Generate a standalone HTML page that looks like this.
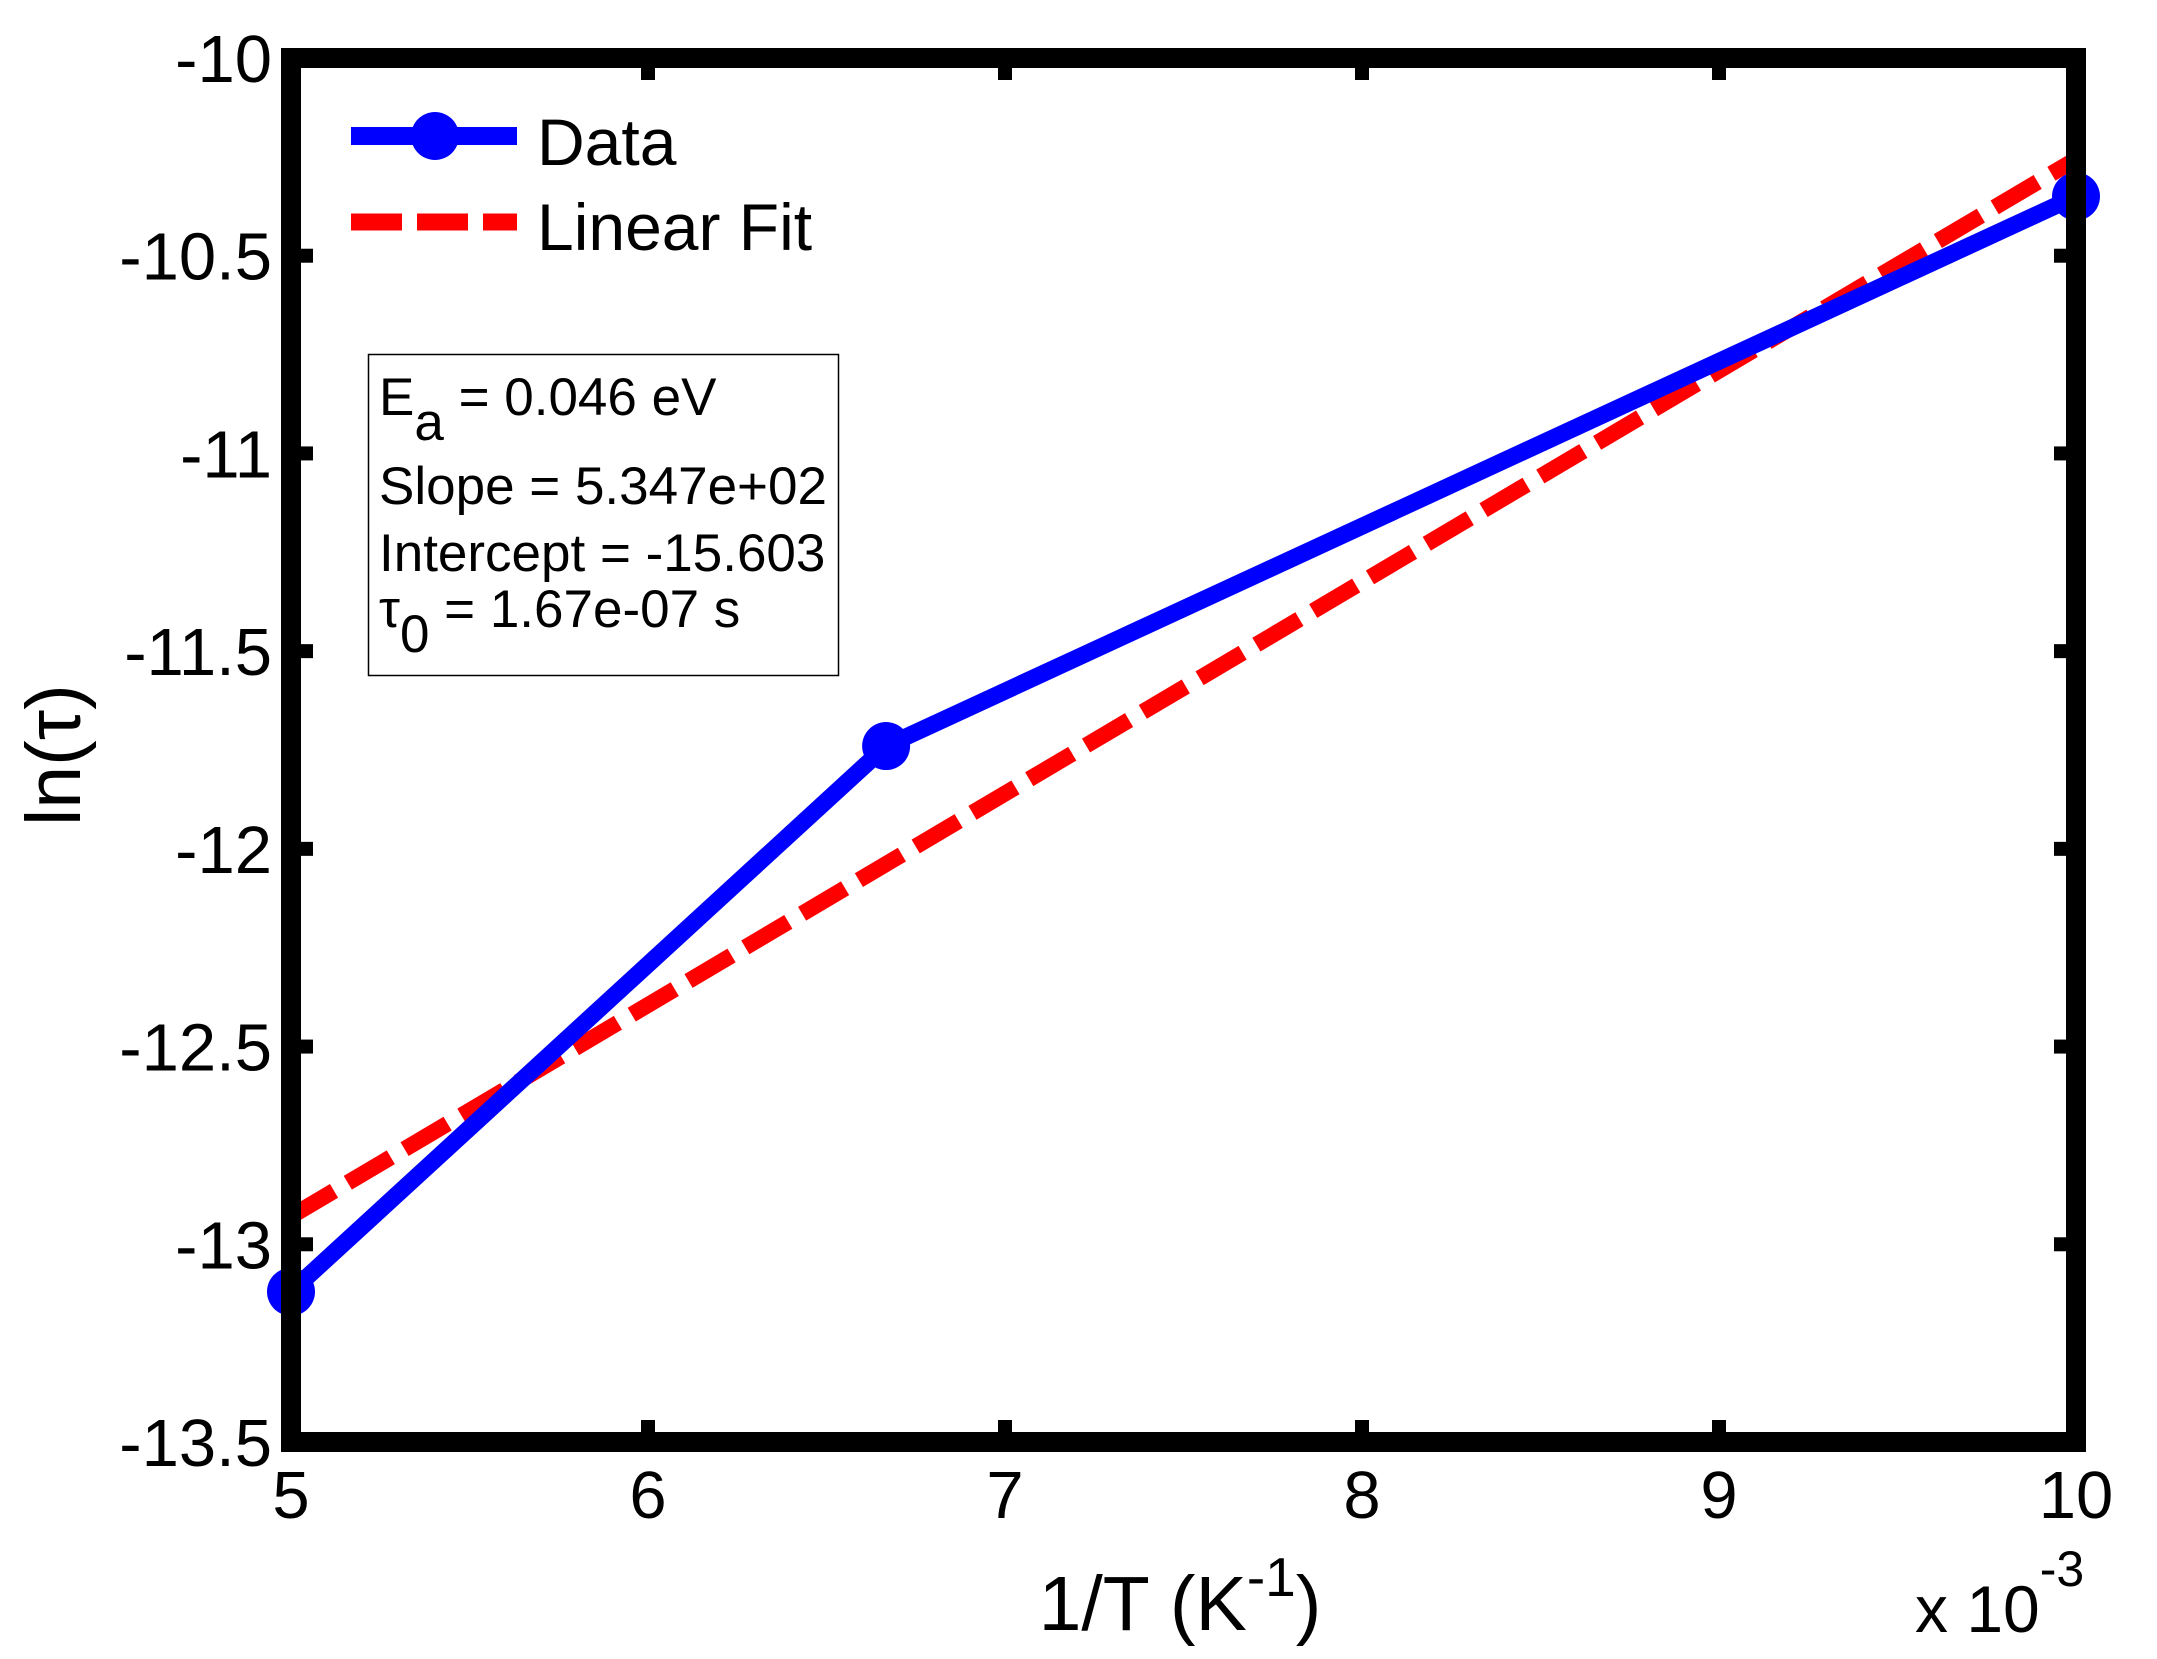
<!DOCTYPE html>
<html><head><meta charset="utf-8">
<style>
html,body{margin:0;padding:0;background:#fff;}
svg{display:block;font-family:"Liberation Sans",Arial,sans-serif;}
</style></head>
<body>
<svg id="chart" width="2157" height="1659" viewBox="0 0 2157 1659" xmlns="http://www.w3.org/2000/svg">
<rect x="0" y="0" width="2157" height="1659" fill="#fff"/>
<g id="plot"></g>
</svg>
<script>
const xTicks = [5, 6, 7, 8, 9, 10];
const xTickLabels = ["5", "6", "7", "8", "9", "10"];
const yTicks = [-10, -10.5, -11, -11.5, -12, -12.5, -13, -13.5];
const yTickLabels = ["-10", "-10.5", "-11", "-11.5", "-12", "-12.5", "-13", "-13.5"];
const dataX = [5, 6.667, 10];
const dataY = [-13.12, -11.74, -10.35];
const fitSlope = 534.7;
const fitIntercept = -15.603;
const fitRange = [5, 10];

const NS = "http://www.w3.org/2000/svg";
const L = 291, R = 2076, T = 58, B = 1442;
const xMin = 5, xMax = 10, yMin = -13.5, yMax = -10;
function sx(v){ return L + (v - xMin) / (xMax - xMin) * (R - L); }
function sy(v){ return B - (v - yMin) / (yMax - yMin) * (B - T); }
const g = document.getElementById('plot');
function mk(tag, attrs, parent){
  const e = document.createElementNS(NS, tag);
  for (const k in attrs) e.setAttribute(k, attrs[k]);
  (parent || g).appendChild(e);
  return e;
}

const fy0 = fitSlope * fitRange[0] / 1000 + fitIntercept;
const fy1 = fitSlope * fitRange[1] / 1000 + fitIntercept;
const fit = mk('line', {x1: sx(fitRange[0]), y1: sy(fy0), x2: sx(fitRange[1]), y2: sy(fy1), stroke: '#ff0000', 'stroke-width': 16, 'stroke-dasharray': '50 16'});



const pts = dataX.map((x, i) => sx(x) + ',' + sy(dataY[i])).join(' ');
const dl = mk('polyline', {points: pts, fill: 'none', stroke: '#0000ff', 'stroke-width': 17, 'stroke-linejoin': 'round'});


dataX.forEach((x, i) => {
  const c = mk('circle', {cx: sx(x), cy: sy(dataY[i]), r: 24, fill: '#0000ff'});
  
  
});

const fr = mk('rect', {x: L, y: T, width: R - L, height: B - T, fill: 'none', stroke: '#000', 'stroke-width': 20});



xTicks.forEach((v, i) => {
  const x = sx(v);
  const t1 = mk('rect', {x: x - 7, y: B - 22, width: 14, height: 22, fill: '#000'});
  
  
  const t2 = mk('rect', {x: x - 7, y: T, width: 14, height: 22, fill: '#000'});
  
  
  const tx = mk('text', {x: x, y: 1518, 'font-size': 67, 'text-anchor': 'middle', fill: '#000'});
  tx.textContent = xTickLabels[i];
  
  
});
yTicks.forEach((v, i) => {
  const y = sy(v);
  const t1 = mk('rect', {x: L, y: y - 7, width: 22, height: 14, fill: '#000'});
  
  
  const t2 = mk('rect', {x: R - 22, y: y - 7, width: 22, height: 14, fill: '#000'});
  
  
  const tx = mk('text', {x: 272, y: y + 24, 'font-size': 67, 'text-anchor': 'end', fill: '#000'});
  tx.textContent = yTickLabels[i];
  
  
});
</script>
<svg style="position:absolute;left:0;top:0;font-family:'Liberation Sans',Arial,sans-serif" width="2157" height="1659">
  <text x="1180" y="1630" font-size="77" text-anchor="middle">1/T (K<tspan font-size="55" dy="-34">-1</tspan><tspan dy="34">)</tspan></text>
  <text x="1915" y="1632" font-size="66">x 10<tspan font-size="50" dy="-46">-3</tspan></text>
  <text transform="translate(80,755) rotate(-90)" font-size="77" text-anchor="middle">ln(τ)</text>
  <g>
    <line x1="351" y1="136" x2="517" y2="136" stroke="#0000ff" stroke-width="18"/>
    <circle cx="435" cy="136" r="24" fill="#0000ff"/>
    <text x="537" y="165" font-size="66">Data</text>
    <line x1="351" y1="222" x2="517" y2="222" stroke="#ff0000" stroke-width="17" stroke-dasharray="51 15"/>
    <text x="537" y="250" font-size="66">Linear Fit</text>
  </g>
  <g>
    <rect x="368.5" y="354.5" width="470" height="321" fill="#fff" stroke="#000" stroke-width="1.5"/>
    <text x="379" y="415" font-size="53">E<tspan dy="25">a</tspan><tspan dy="-25"> = 0.046 eV</tspan></text>
    <text x="379" y="504" font-size="53">Slope = 5.347e+02</text>
    <text x="379" y="571" font-size="53">Intercept = -15.603</text>
    <text x="379" y="627" font-size="53">τ<tspan dy="25">0</tspan><tspan dy="-25"> = 1.67e-07 s</tspan></text>
  </g>
</svg>
</body></html>
